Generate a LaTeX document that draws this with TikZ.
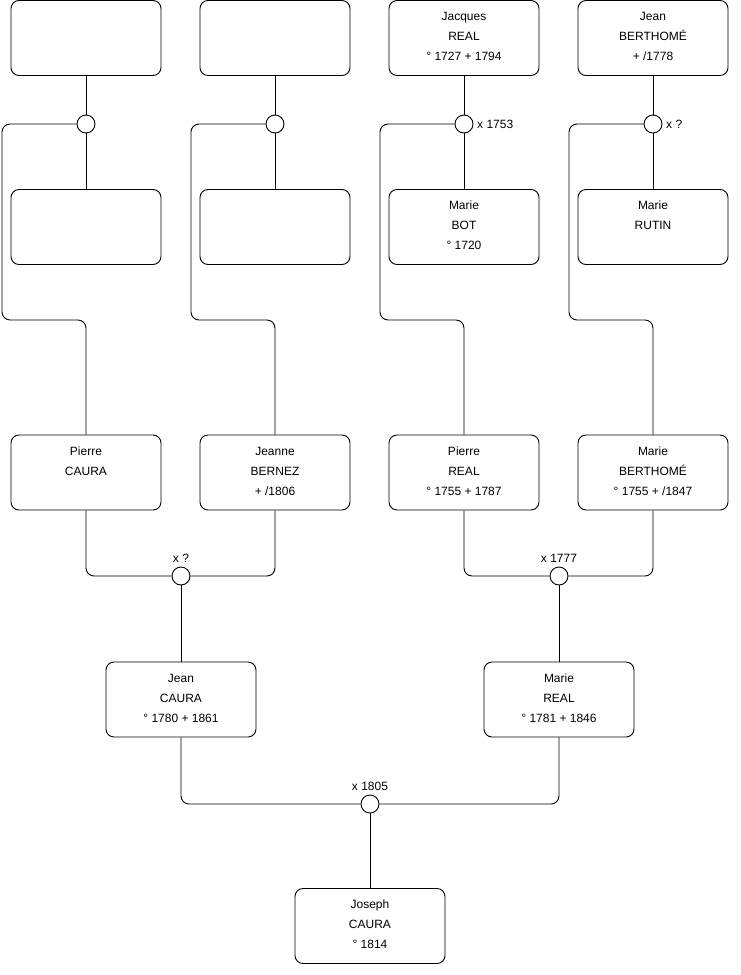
\documentclass[tikz,border=0pt]{standalone}
\usepackage{fontspec}
\setmainfont{Liberation Sans}
\usepackage{tikz}
\usetikzlibrary{positioning}

\newcommand{\card}[1]{\parbox[c][63pt][t]{140pt}{\centering\strut #1}}

\begin{document}
\begin{tikzpicture}[
    x=1pt, y=-1pt,
    person/.style={rectangle, draw, rounded corners=8pt, minimum width=150pt, minimum height=75pt, inner sep=0pt, font=\fontsize{12}{20}\selectfont},
    union/.style={circle, draw, fill=white, minimum size=18pt, inner sep=0pt, label distance=1pt},
    every label/.style={font=\fontsize{12}{14}\selectfont},
    link/.style={rounded corners=8pt, line width=0.9pt}
]
\useasboundingbox (0,0) rectangle (740,975);
\tikzset{every path/.append style={line width=0.9pt}}

% Oldest generation
\node[person] (pierreFather) at (86,38) {\card{}};
\node[person] (jeanneFather) at (275,38) {\card{}};
\node[person] (jacquesReal) at (464,38) {\card{Jacques\\REAL\\° 1727 + 1794}};
\node[person] (jeanBerthome) at (653,38) {\card{Jean\\BERTHOMÉ\\+ /1778}};

\node[union] (uPierre) at (86,124) {};
\node[union] (uJeanne) at (275,124) {};
\node[union, label=right:x 1753] (uPierreR) at (464,124) {};
\node[union, label=right:x ?] (uMarieB) at (653,124) {};

\node[person] (pierreMother) at (86,227) {\card{}};
\node[person] (jeanneMother) at (275,227) {\card{}};
\node[person] (marieBot) at (464,227) {\card{Marie\\BOT\\° 1720}};
\node[person] (marieRutin) at (653,227) {\card{Marie\\RUTIN}};

% Grandparents
\node[person] (pierreCaura) at (86,472.5) {\card{Pierre\\CAURA}};
\node[person] (jeanneBernez) at (275,472.5) {\card{Jeanne\\BERNEZ\\+ /1806}};
\node[person] (pierreReal) at (464,472.5) {\card{Pierre\\REAL\\° 1755 + 1787}};
\node[person] (marieBerthome) at (653,472.5) {\card{Marie\\BERTHOMÉ\\° 1755 + /1847}};

\node[union, label=above:x ?] (uJean) at (181,576) {};
\node[union, label=above:x 1777] (uMarie) at (559,576) {};

% Parents
\node[person] (jeanCaura) at (181,699.5) {\card{Jean\\CAURA\\° 1780 + 1861}};
\node[person] (marieReal) at (559,699.5) {\card{Marie\\REAL\\° 1781 + 1846}};

\node[union, label=above:x 1805] (uJoseph) at (370,804) {};

% Root
\node[person] (josephCaura) at (370,926) {\card{Joseph\\CAURA\\° 1814}};

% Couples
\draw (pierreFather) -- (uPierre) -- (pierreMother);
\draw (jeanneFather) -- (uJeanne) -- (jeanneMother);
\draw (jacquesReal) -- (uPierreR) -- (marieBot);
\draw (jeanBerthome) -- (uMarieB) -- (marieRutin);

% Children of the oldest couples
\draw[link] (uPierre.west) -| (2,320) -| (pierreCaura.north);
\draw[link] (uJeanne.west) -| (191,320) -| (jeanneBernez.north);
\draw[link] (uPierreR.west) -| (380,320) -| (pierreReal.north);
\draw[link] (uMarieB.west) -| (569,320) -| (marieBerthome.north);

% Lower generations
\draw[link] (pierreCaura.south) |- (uJean.west);
\draw[link] (jeanneBernez.south) |- (uJean.east);
\draw (uJean) -- (jeanCaura);
\draw[link] (pierreReal.south) |- (uMarie.west);
\draw[link] (marieBerthome.south) |- (uMarie.east);
\draw (uMarie) -- (marieReal);
\draw[link] (jeanCaura.south) |- (uJoseph.west);
\draw[link] (marieReal.south) |- (uJoseph.east);
\draw (uJoseph) -- (josephCaura);

\end{tikzpicture}
\end{document}
